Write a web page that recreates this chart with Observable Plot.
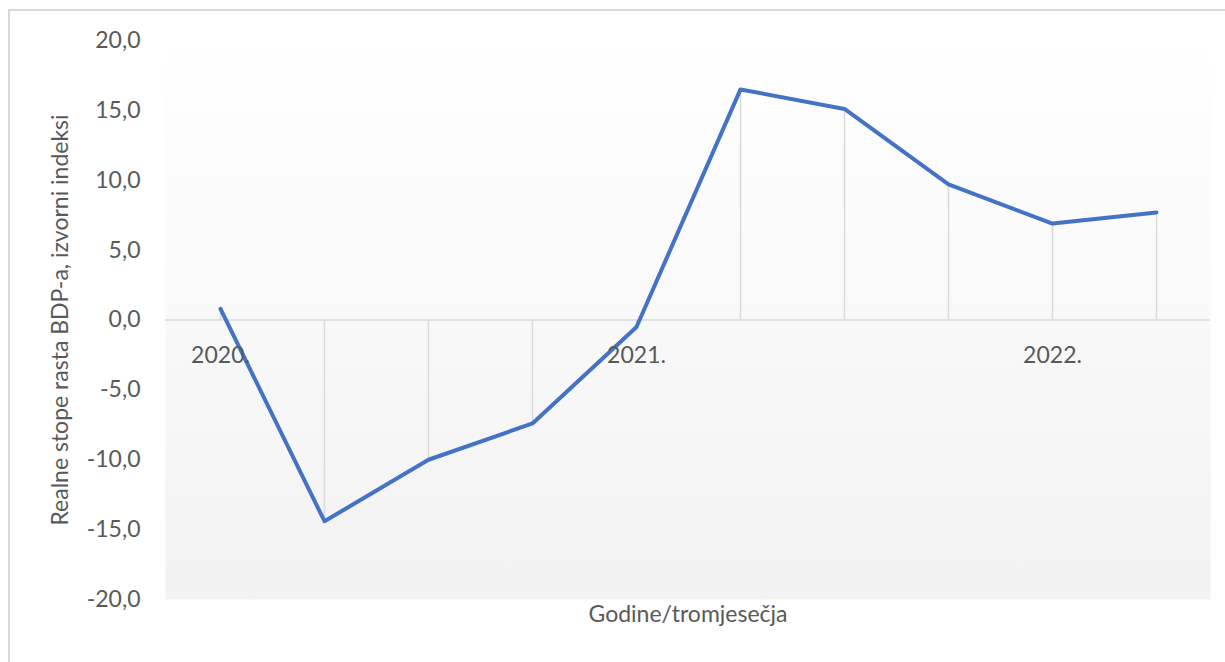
<!DOCTYPE html>
<html>
<head>
<meta charset="utf-8">
<script src="https://cdn.jsdelivr.net/npm/d3@7"></script>
<script src="https://cdn.jsdelivr.net/npm/@observablehq/plot@0.6"></script>
<style>
  html, body { margin: 0; padding: 0; background: #fff; overflow: hidden; }
  #wrap { position: relative; width: 1225px; height: 662px; }
  #border { position: absolute; left: 8px; top: 9px; width: 1400px; height: 800px;
            border-left: 2px solid #d9d9d9; border-top: 2px solid #d9d9d9; }
  #chart { position: absolute; left: 0; top: 0; }
</style>
</head>
<body>
<div id="wrap"><div id="border"></div><div id="chart"></div></div>
<script>
const quarters = ["2020-Q1","2020-Q2","2020-Q3","2020-Q4","2021-Q1","2021-Q2","2021-Q3","2021-Q4","2022-Q1","2022-Q2"];
const values = [0.8, -14.4, -10.0, -7.4, -0.5, 16.5, 15.1, 9.7, 6.9, 7.7];
const yearLabels = ["2020.", "", "", "", "2021.", "", "", "", "2022.", ""];
const yTicks = [-20, -15, -10, -5, 0, 5, 10, 15, 20];
const yTitle = "Realne stope rasta BDP-a, izvorni indeksi";
const xTitle = "Godine/tromjesečja";

const data = quarters.map((q, i) => ({q, v: values[i], label: yearLabels[i]}));
const fmt = d => d.toFixed(1).replace(".", ",");
const textColor = "#595959";
const fs = 23;

const chart = Plot.plot({
  width: 1225,
  height: 662,
  marginLeft: 165,
  marginRight: 15,
  marginTop: 40,
  marginBottom: 63,
  style: {fontFamily: "Lato, 'Open Sans', sans-serif", fontSize: fs + "px", background: "transparent", color: textColor},
  x: {type: "band", domain: quarters, padding: 0, axis: null},
  y: {domain: [-20, 20], axis: null},
  marks: [
    Plot.frame({fill: "url(#bgGrad)", stroke: "none"}),
    Plot.axisY(yTicks, {tickSize: 0, tickPadding: 25, tickFormat: fmt, fill: textColor, fontSize: fs, label: null}),
    Plot.ruleY([0], {stroke: "#d9d9d9", strokeWidth: 1.5}),
    Plot.ruleX(data, {x: "q", y1: () => 0, y2: "v", stroke: "#d9d9d9", strokeWidth: 1.5}),
    Plot.line(data, {x: "q", y: "v", stroke: "#4472c4", strokeWidth: 4, strokeLinejoin: "round", strokeLinecap: "round"}),
    Plot.text(data.filter(d => d.label), {x: "q", y: () => 0, text: "label", dy: 36, fill: textColor, fontSize: fs}),
    Plot.text([yTitle], {frameAnchor: "left", dx: -105, rotate: -90, textAnchor: "middle", fill: textColor, fontSize: fs}),
    Plot.text([xTitle], {frameAnchor: "bottom", dy: 22, fill: textColor, fontSize: fs})
  ]
});

const ns = "http://www.w3.org/2000/svg";
const defs = document.createElementNS(ns, "defs");
const grad = document.createElementNS(ns, "linearGradient");
grad.setAttribute("id", "bgGrad");
grad.setAttribute("x1", "0"); grad.setAttribute("y1", "0");
grad.setAttribute("x2", "0"); grad.setAttribute("y2", "1");
[["0%", "#ffffff"], ["100%", "#f2f2f2"]].forEach(([o, c]) => {
  const s = document.createElementNS(ns, "stop");
  s.setAttribute("offset", o); s.setAttribute("stop-color", c);
  grad.appendChild(s);
});
defs.appendChild(grad);
chart.insertBefore(defs, chart.firstChild);
document.getElementById("chart").appendChild(chart);
</script>
</body>
</html>
